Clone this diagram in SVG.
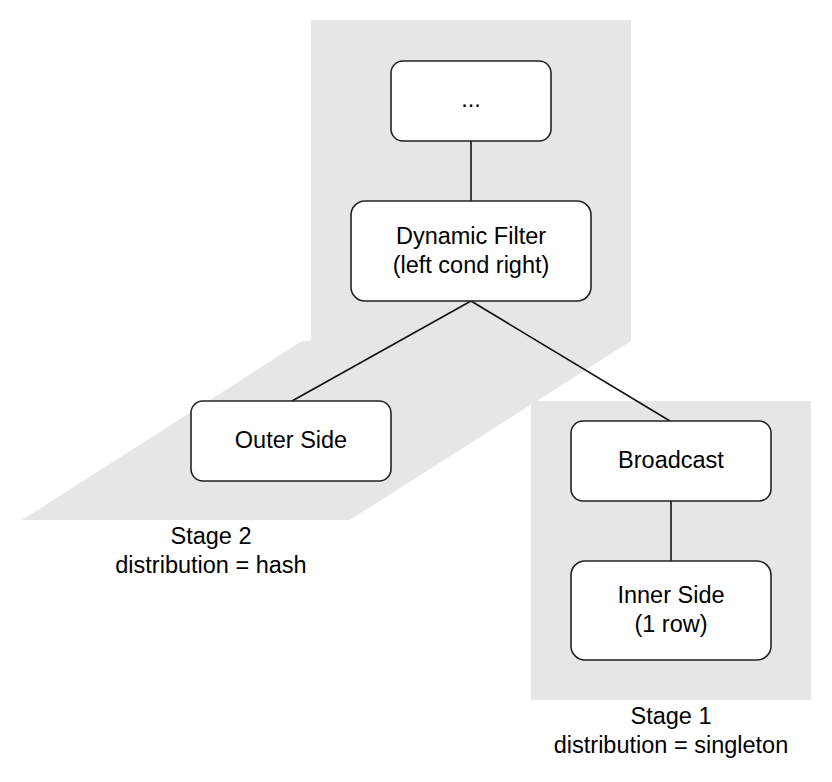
<svg xmlns="http://www.w3.org/2000/svg" width="832" height="782" viewBox="0 0 832 782">
<style>
.stage{fill:#e6e6e6;stroke:none}
.node rect{fill:#fff;stroke:#222;stroke-width:1.6}
text{font-family:"Liberation Sans",Arial,Helvetica,sans-serif;font-size:23.5px;fill:#000;text-anchor:middle}
.edge{stroke:#111;stroke-width:1.6;fill:none}
</style>
<rect width="832" height="782" fill="#fff"/>
<g id="stage2">
<path class="stage" d="M311,20 H631 V341 L350,520 H22 L302,341 H311 Z"/>
<text x="211" y="544">Stage 2</text>
<text x="211" y="573">distribution = hash</text>
</g>
<g id="stage1">
<rect class="stage" x="531" y="401" width="280" height="299"/>
<text x="671" y="724">Stage 1</text>
<text x="671" y="753">distribution = singleton</text>
</g>
<g id="connectors">
<line class="edge" x1="471" y1="141" x2="471" y2="201"/>
<line class="edge" x1="471" y1="301" x2="292" y2="401"/>
<line class="edge" x1="471" y1="301" x2="670" y2="421"/>
<line class="edge" x1="671" y1="501" x2="671" y2="561"/>
</g>
<g id="node-top" class="node">
<rect x="391" y="61" width="160" height="80" rx="12"/>
<text x="471" y="107">...</text>
</g>
<g id="node-dynamic-filter" class="node">
<rect x="351" y="201" width="240" height="100" rx="14"/>
<text x="471" y="244">Dynamic Filter</text>
<text x="471" y="273">(left cond right)</text>
</g>
<g id="node-outer" class="node">
<rect x="191" y="401" width="200" height="80" rx="12"/>
<text x="291" y="448">Outer Side</text>
</g>
<g id="node-broadcast" class="node">
<rect x="571" y="421" width="200" height="80" rx="12"/>
<text x="671" y="468">Broadcast</text>
</g>
<g id="node-inner" class="node">
<rect x="571" y="561" width="200" height="99" rx="14"/>
<text x="671" y="603">Inner Side</text>
<text x="671" y="632">(1 row)</text>
</g>
</svg>
